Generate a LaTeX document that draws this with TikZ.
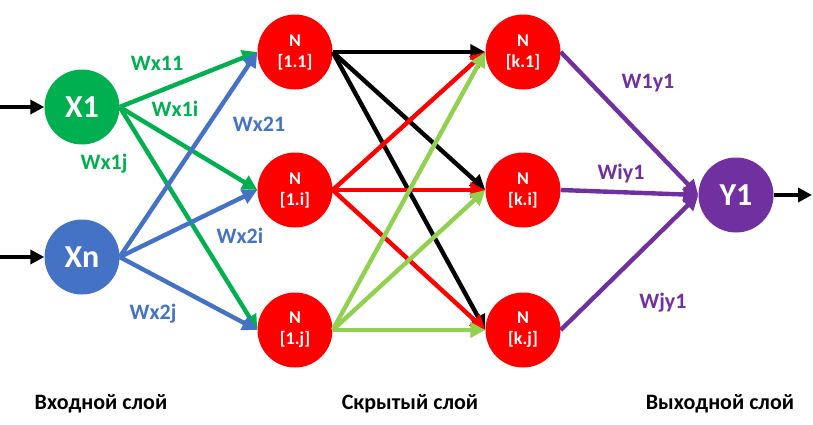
\documentclass[tikz,border=0pt]{standalone}
\usepackage{fontspec}
\setmainfont{Carlito}
\usetikzlibrary{arrows.meta}
\definecolor{NetGreen}{HTML}{00B050}
\definecolor{NetBlue}{HTML}{4472C4}
\definecolor{NetRed}{HTML}{FF0000}
\definecolor{NetLime}{HTML}{92D050}
\definecolor{NetPurple}{HTML}{7030A0}

\begin{document}
\begin{tikzpicture}[x=1pt,y=-1pt,
  unit/.style={circle,minimum size=75pt,inner sep=0pt,text=white,align=center},
  neuron/.style={unit,fill=NetRed,font=\bfseries\fontsize{18}{21}\selectfont},
  big/.style={unit,font=\bfseries\fontsize{32}{34}\selectfont},
  link/.style={line width=4.4pt,-{Triangle[length=15pt,width=15pt]}},
  inlink/.style={line width=4pt,-{Triangle[length=14pt,width=14pt]}},
  wlabel/.style={font=\bfseries\fontsize{22}{24}\selectfont},
  layer/.style={font=\bfseries\fontsize{22}{26}\selectfont}]
  \useasboundingbox (0,0) rectangle (813,424);
  \node[big,fill=NetGreen] (X1) at (82,107) {X1};
  \node[big,fill=NetBlue] (Xn) at (82,257) {Xn};
  \node[big,fill=NetPurple] (Y1) at (736,195) {Y1};
  \foreach \n/\y in {1/52,i/190,j/330}{\node[neuron] (A\n) at (295,\y) {N\\{[1.\n]}};\node[neuron] (B\n) at (523,\y) {N\\{[k.\n]}};}
  % connections between layers
  \foreach \n in {1,i,j}{\draw[link,NetGreen] (X1.east) -- (A\n.west);}
  \foreach \n in {1,i,j}{\draw[link,NetBlue] (Xn.east) -- (A\n.west);}
  \foreach \a/\c in {1/black,i/NetRed,j/NetLime}{\foreach \n in {1,i,j}{\draw[link,\c] (A\a.east) -- (B\n.west);}}
  \foreach \n in {1,i,j}{\draw[link,NetPurple] (B\n.east) -- (Y1.west);}
  \coordinate (in1) at (0,107); \coordinate (inn) at (0,257); \coordinate (out) at (812,195);
  \draw[inlink] (in1) -- (X1.west); \draw[inlink] (inn) -- (Xn.west); \draw[inlink] (Y1.east) -- (out);
  % weights
  \node[wlabel,NetGreen] (w11) at (157,63) {Wx11};
  \node[wlabel,NetGreen] (w1i) at (175,109) {Wx1i};
  \node[wlabel,NetGreen] (w1j) at (104,164) {Wx1j};
  \node[wlabel,NetBlue] (w21) at (259,124) {Wx21};
  \node[wlabel,NetBlue] (w2i) at (240,236) {Wx2i};
  \node[wlabel,NetBlue] (w2j) at (153,314) {Wx2j};
  \node[wlabel,NetPurple] (v1) at (648,83) {W1y1};
  \node[wlabel,NetPurple] (vi) at (621,174) {Wiy1};
  \node[wlabel,NetPurple] (vj) at (663,303) {Wjy1};
  % layer names
  \node[layer] (Lin) at (101,404) {Входной слой};
  \node[layer] (Lhid) at (410,404) {Скрытый слой};
  \node[layer] (Lout) at (720,404) {Выходной слой};
\end{tikzpicture}
\end{document}
